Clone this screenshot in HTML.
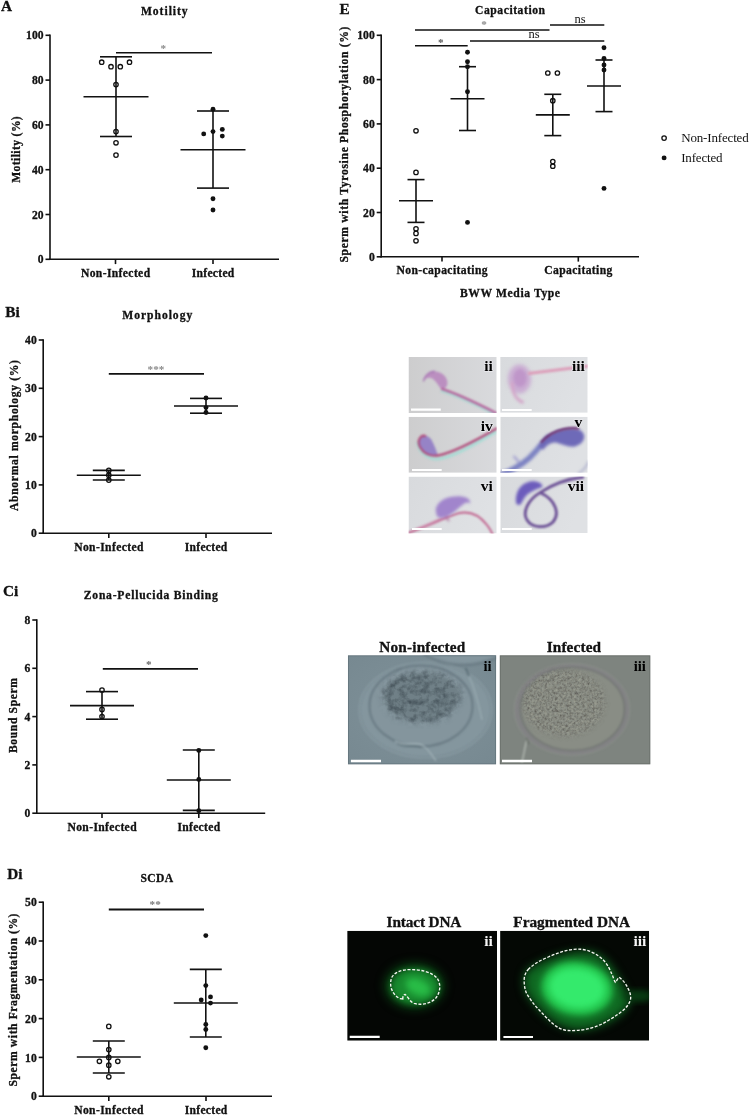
<!DOCTYPE html>
<html lang="en"><head><meta charset="utf-8"><title>Figure</title>
<style>html,body{margin:0;padding:0;background:#fff}svg{display:block}text{font-family:'Liberation Serif', 'DejaVu Serif', serif}</style>
</head><body>
<svg width="750" height="1115" viewBox="0 0 750 1115">
<rect width="750" height="1115" fill="#fff"/>
<g id="panelA">
<text x="0.9" y="11.0" font-size="15.3" text-anchor="start" font-weight="bold" fill="#111" stroke="#111" stroke-width="0.3">A</text>
<text x="164.3" y="15.0" font-size="11.6" text-anchor="middle" font-weight="bold" fill="#111" textLength="46.7" lengthAdjust="spacing" stroke="#111" stroke-width="0.3">Motility</text>
<line x1="50.0" y1="34.5" x2="50.0" y2="260.1" stroke="#111" stroke-width="1.6"/>
<line x1="49.2" y1="259.3" x2="279.0" y2="259.3" stroke="#111" stroke-width="1.6"/>
<line x1="45.5" y1="259.3" x2="50.0" y2="259.3" stroke="#111" stroke-width="1.6"/>
<text x="43.5" y="263.4" font-size="11.6" text-anchor="end" font-weight="bold" fill="#111" stroke="#111" stroke-width="0.3">0</text>
<line x1="45.5" y1="214.5" x2="50.0" y2="214.5" stroke="#111" stroke-width="1.6"/>
<text x="43.5" y="218.6" font-size="11.6" text-anchor="end" font-weight="bold" fill="#111" stroke="#111" stroke-width="0.3">20</text>
<line x1="45.5" y1="169.7" x2="50.0" y2="169.7" stroke="#111" stroke-width="1.6"/>
<text x="43.5" y="173.8" font-size="11.6" text-anchor="end" font-weight="bold" fill="#111" stroke="#111" stroke-width="0.3">40</text>
<line x1="45.5" y1="124.9" x2="50.0" y2="124.9" stroke="#111" stroke-width="1.6"/>
<text x="43.5" y="129.0" font-size="11.6" text-anchor="end" font-weight="bold" fill="#111" stroke="#111" stroke-width="0.3">60</text>
<line x1="45.5" y1="80.1" x2="50.0" y2="80.1" stroke="#111" stroke-width="1.6"/>
<text x="43.5" y="84.2" font-size="11.6" text-anchor="end" font-weight="bold" fill="#111" stroke="#111" stroke-width="0.3">80</text>
<line x1="45.5" y1="35.3" x2="50.0" y2="35.3" stroke="#111" stroke-width="1.6"/>
<text x="43.5" y="39.4" font-size="11.6" text-anchor="end" font-weight="bold" fill="#111" stroke="#111" stroke-width="0.3">100</text>
<line x1="115.5" y1="259.3" x2="115.5" y2="264.1" stroke="#111" stroke-width="1.6"/>
<text x="115.5" y="276.8" font-size="11.6" text-anchor="middle" font-weight="bold" fill="#111" textLength="69.2" lengthAdjust="spacing" stroke="#111" stroke-width="0.3">Non-Infected</text>
<line x1="213.0" y1="259.3" x2="213.0" y2="264.1" stroke="#111" stroke-width="1.6"/>
<text x="213.0" y="276.8" font-size="11.6" text-anchor="middle" font-weight="bold" fill="#111" textLength="42.6" lengthAdjust="spacing" stroke="#111" stroke-width="0.3">Infected</text>
<text x="20.0" y="149.5" font-size="11.6" text-anchor="middle" font-weight="bold" fill="#111" textLength="66.5" lengthAdjust="spacing" transform="rotate(-90 20.0 149.5)" stroke="#111" stroke-width="0.3">Motility (%)</text>
<line x1="83.5" y1="96.7" x2="148.5" y2="96.7" stroke="#111" stroke-width="1.6"/>
<line x1="116.0" y1="56.8" x2="116.0" y2="136.5" stroke="#111" stroke-width="1.6"/>
<line x1="100.0" y1="56.8" x2="132.0" y2="56.8" stroke="#111" stroke-width="1.6"/>
<line x1="100.0" y1="136.5" x2="132.0" y2="136.5" stroke="#111" stroke-width="1.6"/>
<line x1="180.5" y1="149.8" x2="245.5" y2="149.8" stroke="#111" stroke-width="1.6"/>
<line x1="213.0" y1="111.0" x2="213.0" y2="188.1" stroke="#111" stroke-width="1.6"/>
<line x1="197.0" y1="111.0" x2="229.0" y2="111.0" stroke="#111" stroke-width="1.6"/>
<line x1="197.0" y1="188.1" x2="229.0" y2="188.1" stroke="#111" stroke-width="1.6"/>
<circle cx="101.7" cy="62.2" r="2.2" fill="#fff" fill-opacity="0.0" stroke="#111" stroke-width="1.3"/>
<circle cx="111.0" cy="66.7" r="2.2" fill="#fff" fill-opacity="0.0" stroke="#111" stroke-width="1.3"/>
<circle cx="120.3" cy="66.7" r="2.2" fill="#fff" fill-opacity="0.0" stroke="#111" stroke-width="1.3"/>
<circle cx="129.5" cy="62.2" r="2.2" fill="#fff" fill-opacity="0.0" stroke="#111" stroke-width="1.3"/>
<circle cx="116.0" cy="84.6" r="2.2" fill="#fff" fill-opacity="0.0" stroke="#111" stroke-width="1.3"/>
<circle cx="116.0" cy="131.6" r="2.2" fill="#fff" fill-opacity="0.0" stroke="#111" stroke-width="1.3"/>
<circle cx="116.0" cy="142.8" r="2.2" fill="#fff" fill-opacity="0.0" stroke="#111" stroke-width="1.3"/>
<circle cx="116.0" cy="155.1" r="2.2" fill="#fff" fill-opacity="0.0" stroke="#111" stroke-width="1.3"/>
<circle cx="213.0" cy="109.2" r="2.45" fill="#111"/>
<circle cx="222.3" cy="129.4" r="2.45" fill="#111"/>
<circle cx="213.0" cy="131.6" r="2.45" fill="#111"/>
<circle cx="203.7" cy="133.9" r="2.45" fill="#111"/>
<circle cx="222.3" cy="136.1" r="2.45" fill="#111"/>
<circle cx="213.0" cy="198.8" r="2.45" fill="#111"/>
<circle cx="213.0" cy="210.0" r="2.45" fill="#111"/>
<line x1="116.0" y1="52.7" x2="212.0" y2="52.7" stroke="#111" stroke-width="1.6"/>
<text x="163.3" y="51.6" font-size="11.2" text-anchor="middle" font-weight="bold" fill="#888">*</text>
</g>
<g id="panelE">
<text x="339.6" y="13.5" font-size="15.3" text-anchor="start" font-weight="bold" fill="#111" stroke="#111" stroke-width="0.3">E</text>
<text x="510.0" y="14.2" font-size="11.6" text-anchor="middle" font-weight="bold" fill="#111" textLength="70.0" lengthAdjust="spacing" stroke="#111" stroke-width="0.3">Capacitation</text>
<line x1="381.2" y1="34.5" x2="381.2" y2="257.6" stroke="#111" stroke-width="1.6"/>
<line x1="380.4" y1="256.8" x2="639.0" y2="256.8" stroke="#111" stroke-width="1.6"/>
<line x1="376.7" y1="256.8" x2="381.2" y2="256.8" stroke="#111" stroke-width="1.6"/>
<text x="374.7" y="260.9" font-size="11.6" text-anchor="end" font-weight="bold" fill="#111" stroke="#111" stroke-width="0.3">0</text>
<line x1="376.7" y1="212.5" x2="381.2" y2="212.5" stroke="#111" stroke-width="1.6"/>
<text x="374.7" y="216.6" font-size="11.6" text-anchor="end" font-weight="bold" fill="#111" stroke="#111" stroke-width="0.3">20</text>
<line x1="376.7" y1="168.2" x2="381.2" y2="168.2" stroke="#111" stroke-width="1.6"/>
<text x="374.7" y="172.3" font-size="11.6" text-anchor="end" font-weight="bold" fill="#111" stroke="#111" stroke-width="0.3">40</text>
<line x1="376.7" y1="123.9" x2="381.2" y2="123.9" stroke="#111" stroke-width="1.6"/>
<text x="374.7" y="128.0" font-size="11.6" text-anchor="end" font-weight="bold" fill="#111" stroke="#111" stroke-width="0.3">60</text>
<line x1="376.7" y1="79.6" x2="381.2" y2="79.6" stroke="#111" stroke-width="1.6"/>
<text x="374.7" y="83.7" font-size="11.6" text-anchor="end" font-weight="bold" fill="#111" stroke="#111" stroke-width="0.3">80</text>
<line x1="376.7" y1="35.3" x2="381.2" y2="35.3" stroke="#111" stroke-width="1.6"/>
<text x="374.7" y="39.4" font-size="11.6" text-anchor="end" font-weight="bold" fill="#111" stroke="#111" stroke-width="0.3">100</text>
<line x1="442.0" y1="256.8" x2="442.0" y2="261.6" stroke="#111" stroke-width="1.6"/>
<text x="442.0" y="274.3" font-size="11.6" text-anchor="middle" font-weight="bold" fill="#111" textLength="91.2" lengthAdjust="spacing" stroke="#111" stroke-width="0.3">Non-capacitating</text>
<line x1="578.3" y1="256.8" x2="578.3" y2="261.6" stroke="#111" stroke-width="1.6"/>
<text x="578.3" y="274.3" font-size="11.6" text-anchor="middle" font-weight="bold" fill="#111" textLength="68.0" lengthAdjust="spacing" stroke="#111" stroke-width="0.3">Capacitating</text>
<text x="510.0" y="296.6" font-size="11.6" text-anchor="middle" font-weight="bold" fill="#111" textLength="100.0" lengthAdjust="spacing" stroke="#111" stroke-width="0.3">BWW Media Type</text>
<text x="348.3" y="144.6" font-size="11.6" text-anchor="middle" font-weight="bold" fill="#111" textLength="236.0" lengthAdjust="spacing" transform="rotate(-90 348.3 144.6)" stroke="#111" stroke-width="0.3">Sperm with Tyrosine Phosphorylation (%)</text>
<line x1="399.0" y1="200.8" x2="433.0" y2="200.8" stroke="#111" stroke-width="1.6"/>
<line x1="416.0" y1="179.6" x2="416.0" y2="222.4" stroke="#111" stroke-width="1.6"/>
<line x1="407.5" y1="179.6" x2="424.5" y2="179.6" stroke="#111" stroke-width="1.6"/>
<line x1="407.5" y1="222.4" x2="424.5" y2="222.4" stroke="#111" stroke-width="1.6"/>
<line x1="450.5" y1="98.7" x2="484.5" y2="98.7" stroke="#111" stroke-width="1.6"/>
<line x1="467.5" y1="66.7" x2="467.5" y2="130.5" stroke="#111" stroke-width="1.6"/>
<line x1="459.0" y1="66.7" x2="476.0" y2="66.7" stroke="#111" stroke-width="1.6"/>
<line x1="459.0" y1="130.5" x2="476.0" y2="130.5" stroke="#111" stroke-width="1.6"/>
<line x1="535.8" y1="114.9" x2="569.8" y2="114.9" stroke="#111" stroke-width="1.6"/>
<line x1="552.8" y1="94.3" x2="552.8" y2="135.6" stroke="#111" stroke-width="1.6"/>
<line x1="544.3" y1="94.3" x2="561.3" y2="94.3" stroke="#111" stroke-width="1.6"/>
<line x1="544.3" y1="135.6" x2="561.3" y2="135.6" stroke="#111" stroke-width="1.6"/>
<line x1="587.0" y1="86.0" x2="621.0" y2="86.0" stroke="#111" stroke-width="1.6"/>
<line x1="604.0" y1="60.0" x2="604.0" y2="111.6" stroke="#111" stroke-width="1.6"/>
<line x1="595.5" y1="60.0" x2="612.5" y2="60.0" stroke="#111" stroke-width="1.6"/>
<line x1="595.5" y1="111.6" x2="612.5" y2="111.6" stroke="#111" stroke-width="1.6"/>
<circle cx="416.0" cy="130.8" r="2.2" fill="#fff" fill-opacity="0.0" stroke="#111" stroke-width="1.3"/>
<circle cx="416.0" cy="172.4" r="2.2" fill="#fff" fill-opacity="0.0" stroke="#111" stroke-width="1.3"/>
<circle cx="416.0" cy="228.8" r="2.2" fill="#fff" fill-opacity="0.0" stroke="#111" stroke-width="1.3"/>
<circle cx="416.0" cy="233.4" r="2.2" fill="#fff" fill-opacity="0.0" stroke="#111" stroke-width="1.3"/>
<circle cx="416.0" cy="240.8" r="2.2" fill="#fff" fill-opacity="0.0" stroke="#111" stroke-width="1.3"/>
<circle cx="547.8" cy="73.0" r="2.2" fill="#fff" fill-opacity="0.0" stroke="#111" stroke-width="1.3"/>
<circle cx="557.4" cy="73.0" r="2.2" fill="#fff" fill-opacity="0.0" stroke="#111" stroke-width="1.3"/>
<circle cx="552.8" cy="100.7" r="2.2" fill="#fff" fill-opacity="0.0" stroke="#111" stroke-width="1.3"/>
<circle cx="552.8" cy="161.6" r="2.2" fill="#fff" fill-opacity="0.0" stroke="#111" stroke-width="1.3"/>
<circle cx="552.8" cy="166.2" r="2.2" fill="#fff" fill-opacity="0.0" stroke="#111" stroke-width="1.3"/>
<circle cx="467.5" cy="52.3" r="2.45" fill="#111"/>
<circle cx="467.5" cy="61.7" r="2.45" fill="#111"/>
<circle cx="467.5" cy="66.7" r="2.45" fill="#111"/>
<circle cx="467.5" cy="91.7" r="2.45" fill="#111"/>
<circle cx="467.5" cy="222.4" r="2.45" fill="#111"/>
<circle cx="604.0" cy="47.7" r="2.45" fill="#111"/>
<circle cx="604.0" cy="58.5" r="2.45" fill="#111"/>
<circle cx="604.0" cy="65.0" r="2.45" fill="#111"/>
<circle cx="604.0" cy="70.0" r="2.45" fill="#111"/>
<circle cx="604.0" cy="188.4" r="2.45" fill="#111"/>
<line x1="415.0" y1="30.0" x2="549.5" y2="30.0" stroke="#111" stroke-width="1.6"/>
<text x="484.0" y="28.2" font-size="11.2" text-anchor="middle" font-weight="bold" fill="#888">*</text>
<line x1="415.0" y1="45.7" x2="467.7" y2="45.7" stroke="#111" stroke-width="1.6"/>
<text x="440.7" y="45.6" font-size="11.2" text-anchor="middle" font-weight="bold" fill="#555">*</text>
<line x1="470.0" y1="41.0" x2="604.3" y2="41.0" stroke="#111" stroke-width="1.6"/>
<text x="534.0" y="37.6" font-size="12.5" text-anchor="middle" font-weight="normal" fill="#111">ns</text>
<line x1="550.0" y1="25.0" x2="604.3" y2="25.0" stroke="#111" stroke-width="1.6"/>
<text x="580.0" y="22.6" font-size="12.5" text-anchor="middle" font-weight="normal" fill="#111">ns</text>
<circle cx="664.1" cy="138.1" r="2.2" fill="#fff" fill-opacity="0.0" stroke="#111" stroke-width="1.3"/>
<text x="681.2" y="141.9" font-size="13" text-anchor="start" font-weight="normal" fill="#111" textLength="67.5" lengthAdjust="spacing">Non-Infected</text>
<circle cx="664.1" cy="157.9" r="2.45" fill="#111"/>
<text x="681.2" y="161.9" font-size="13" text-anchor="start" font-weight="normal" fill="#111" textLength="41.3" lengthAdjust="spacing">Infected</text>
</g>
<g id="panelB">
<text x="5.2" y="317.4" font-size="15.3" text-anchor="start" font-weight="bold" fill="#111" stroke="#111" stroke-width="0.3">Bi</text>
<text x="157.2" y="318.8" font-size="11.6" text-anchor="middle" font-weight="bold" fill="#111" textLength="70.0" lengthAdjust="spacing" stroke="#111" stroke-width="0.3">Morphology</text>
<line x1="43.2" y1="339.2" x2="43.2" y2="534.0" stroke="#111" stroke-width="1.6"/>
<line x1="42.4" y1="533.2" x2="272.0" y2="533.2" stroke="#111" stroke-width="1.6"/>
<line x1="38.7" y1="533.2" x2="43.2" y2="533.2" stroke="#111" stroke-width="1.6"/>
<text x="36.7" y="537.3" font-size="11.6" text-anchor="end" font-weight="bold" fill="#111" stroke="#111" stroke-width="0.3">0</text>
<line x1="38.7" y1="484.9" x2="43.2" y2="484.9" stroke="#111" stroke-width="1.6"/>
<text x="36.7" y="489.0" font-size="11.6" text-anchor="end" font-weight="bold" fill="#111" stroke="#111" stroke-width="0.3">10</text>
<line x1="38.7" y1="436.6" x2="43.2" y2="436.6" stroke="#111" stroke-width="1.6"/>
<text x="36.7" y="440.7" font-size="11.6" text-anchor="end" font-weight="bold" fill="#111" stroke="#111" stroke-width="0.3">20</text>
<line x1="38.7" y1="388.3" x2="43.2" y2="388.3" stroke="#111" stroke-width="1.6"/>
<text x="36.7" y="392.4" font-size="11.6" text-anchor="end" font-weight="bold" fill="#111" stroke="#111" stroke-width="0.3">30</text>
<line x1="38.7" y1="340.0" x2="43.2" y2="340.0" stroke="#111" stroke-width="1.6"/>
<text x="36.7" y="344.1" font-size="11.6" text-anchor="end" font-weight="bold" fill="#111" stroke="#111" stroke-width="0.3">40</text>
<line x1="108.8" y1="533.2" x2="108.8" y2="538.0" stroke="#111" stroke-width="1.6"/>
<text x="108.8" y="550.7" font-size="11.6" text-anchor="middle" font-weight="bold" fill="#111" textLength="69.2" lengthAdjust="spacing" stroke="#111" stroke-width="0.3">Non-Infected</text>
<line x1="206.0" y1="533.2" x2="206.0" y2="538.0" stroke="#111" stroke-width="1.6"/>
<text x="206.0" y="550.7" font-size="11.6" text-anchor="middle" font-weight="bold" fill="#111" textLength="42.6" lengthAdjust="spacing" stroke="#111" stroke-width="0.3">Infected</text>
<text x="17.5" y="435.5" font-size="11.6" text-anchor="middle" font-weight="bold" fill="#111" textLength="151.0" lengthAdjust="spacing" transform="rotate(-90 17.5 435.5)" stroke="#111" stroke-width="0.3">Abnormal morphology (%)</text>
<line x1="76.8" y1="475.2" x2="140.8" y2="475.2" stroke="#111" stroke-width="1.6"/>
<line x1="108.8" y1="470.4" x2="108.8" y2="480.0" stroke="#111" stroke-width="1.6"/>
<line x1="92.8" y1="470.4" x2="124.8" y2="470.4" stroke="#111" stroke-width="1.6"/>
<line x1="92.8" y1="480.0" x2="124.8" y2="480.0" stroke="#111" stroke-width="1.6"/>
<line x1="174.0" y1="406.0" x2="238.0" y2="406.0" stroke="#111" stroke-width="1.6"/>
<line x1="206.0" y1="398.4" x2="206.0" y2="413.2" stroke="#111" stroke-width="1.6"/>
<line x1="190.0" y1="398.4" x2="222.0" y2="398.4" stroke="#111" stroke-width="1.6"/>
<line x1="190.0" y1="413.2" x2="222.0" y2="413.2" stroke="#111" stroke-width="1.6"/>
<circle cx="108.8" cy="470.4" r="2.2" fill="#fff" fill-opacity="0.0" stroke="#111" stroke-width="1.3"/>
<circle cx="108.8" cy="475.2" r="2.2" fill="#fff" fill-opacity="0.0" stroke="#111" stroke-width="1.3"/>
<circle cx="108.8" cy="480.1" r="2.2" fill="#fff" fill-opacity="0.0" stroke="#111" stroke-width="1.3"/>
<circle cx="206.0" cy="398.0" r="2.45" fill="#111"/>
<circle cx="206.0" cy="407.6" r="2.45" fill="#111"/>
<circle cx="206.0" cy="412.5" r="2.45" fill="#111"/>
<line x1="108.8" y1="373.9" x2="204.0" y2="373.9" stroke="#111" stroke-width="1.6"/>
<text x="156.0" y="372.6" font-size="11.2" text-anchor="middle" font-weight="bold" fill="#888">***</text>
</g>
<g id="panelC">
<text x="3.0" y="596.4" font-size="15.3" text-anchor="start" font-weight="bold" fill="#111" stroke="#111" stroke-width="0.3">Ci</text>
<text x="150.8" y="598.8" font-size="11.6" text-anchor="middle" font-weight="bold" fill="#111" textLength="134.0" lengthAdjust="spacing" stroke="#111" stroke-width="0.3">Zona-Pellucida Binding</text>
<line x1="36.8" y1="619.2" x2="36.8" y2="814.0" stroke="#111" stroke-width="1.6"/>
<line x1="36.0" y1="813.2" x2="265.2" y2="813.2" stroke="#111" stroke-width="1.6"/>
<line x1="32.3" y1="813.2" x2="36.8" y2="813.2" stroke="#111" stroke-width="1.6"/>
<text x="30.3" y="817.3" font-size="11.6" text-anchor="end" font-weight="bold" fill="#111" stroke="#111" stroke-width="0.3">0</text>
<line x1="32.3" y1="764.9" x2="36.8" y2="764.9" stroke="#111" stroke-width="1.6"/>
<text x="30.3" y="769.0" font-size="11.6" text-anchor="end" font-weight="bold" fill="#111" stroke="#111" stroke-width="0.3">2</text>
<line x1="32.3" y1="716.6" x2="36.8" y2="716.6" stroke="#111" stroke-width="1.6"/>
<text x="30.3" y="720.7" font-size="11.6" text-anchor="end" font-weight="bold" fill="#111" stroke="#111" stroke-width="0.3">4</text>
<line x1="32.3" y1="668.3" x2="36.8" y2="668.3" stroke="#111" stroke-width="1.6"/>
<text x="30.3" y="672.4" font-size="11.6" text-anchor="end" font-weight="bold" fill="#111" stroke="#111" stroke-width="0.3">6</text>
<line x1="32.3" y1="620.0" x2="36.8" y2="620.0" stroke="#111" stroke-width="1.6"/>
<text x="30.3" y="624.1" font-size="11.6" text-anchor="end" font-weight="bold" fill="#111" stroke="#111" stroke-width="0.3">8</text>
<line x1="102.0" y1="813.2" x2="102.0" y2="818.0" stroke="#111" stroke-width="1.6"/>
<text x="102.0" y="830.7" font-size="11.6" text-anchor="middle" font-weight="bold" fill="#111" textLength="69.2" lengthAdjust="spacing" stroke="#111" stroke-width="0.3">Non-Infected</text>
<line x1="198.8" y1="813.2" x2="198.8" y2="818.0" stroke="#111" stroke-width="1.6"/>
<text x="198.8" y="830.7" font-size="11.6" text-anchor="middle" font-weight="bold" fill="#111" textLength="42.6" lengthAdjust="spacing" stroke="#111" stroke-width="0.3">Infected</text>
<text x="16.5" y="715.5" font-size="11.6" text-anchor="middle" font-weight="bold" fill="#111" textLength="75.0" lengthAdjust="spacing" transform="rotate(-90 16.5 715.5)" stroke="#111" stroke-width="0.3">Bound Sperm</text>
<line x1="70.0" y1="705.6" x2="134.0" y2="705.6" stroke="#111" stroke-width="1.6"/>
<line x1="102.0" y1="691.6" x2="102.0" y2="719.2" stroke="#111" stroke-width="1.6"/>
<line x1="86.0" y1="691.6" x2="118.0" y2="691.6" stroke="#111" stroke-width="1.6"/>
<line x1="86.0" y1="719.2" x2="118.0" y2="719.2" stroke="#111" stroke-width="1.6"/>
<line x1="166.8" y1="780.0" x2="230.8" y2="780.0" stroke="#111" stroke-width="1.6"/>
<line x1="198.8" y1="750.0" x2="198.8" y2="810.4" stroke="#111" stroke-width="1.6"/>
<line x1="182.8" y1="750.0" x2="214.8" y2="750.0" stroke="#111" stroke-width="1.6"/>
<line x1="182.8" y1="810.4" x2="214.8" y2="810.4" stroke="#111" stroke-width="1.6"/>
<circle cx="102.0" cy="690.0" r="2.2" fill="#fff" fill-opacity="0.0" stroke="#111" stroke-width="1.3"/>
<circle cx="102.0" cy="709.4" r="2.2" fill="#fff" fill-opacity="0.0" stroke="#111" stroke-width="1.3"/>
<circle cx="102.0" cy="716.6" r="2.2" fill="#fff" fill-opacity="0.0" stroke="#111" stroke-width="1.3"/>
<circle cx="198.8" cy="750.4" r="2.45" fill="#111"/>
<circle cx="198.8" cy="779.4" r="2.45" fill="#111"/>
<circle cx="198.8" cy="810.8" r="2.45" fill="#111"/>
<line x1="102.8" y1="668.9" x2="198.0" y2="668.9" stroke="#111" stroke-width="1.9"/>
<text x="148.8" y="667.6" font-size="11.2" text-anchor="middle" font-weight="bold" fill="#666">*</text>
</g>
<g id="panelD">
<text x="7.2" y="879.2" font-size="15.3" text-anchor="start" font-weight="bold" fill="#111" stroke="#111" stroke-width="0.3">Di</text>
<text x="156.8" y="882.2" font-size="11.6" text-anchor="middle" font-weight="bold" fill="#111" textLength="32.5" lengthAdjust="spacing" stroke="#111" stroke-width="0.3">SCDA</text>
<line x1="43.2" y1="901.4" x2="43.2" y2="1097.0" stroke="#111" stroke-width="1.6"/>
<line x1="42.4" y1="1096.2" x2="272.0" y2="1096.2" stroke="#111" stroke-width="1.6"/>
<line x1="38.7" y1="1096.2" x2="43.2" y2="1096.2" stroke="#111" stroke-width="1.6"/>
<text x="36.7" y="1100.3" font-size="11.6" text-anchor="end" font-weight="bold" fill="#111" stroke="#111" stroke-width="0.3">0</text>
<line x1="38.7" y1="1057.4" x2="43.2" y2="1057.4" stroke="#111" stroke-width="1.6"/>
<text x="36.7" y="1061.5" font-size="11.6" text-anchor="end" font-weight="bold" fill="#111" stroke="#111" stroke-width="0.3">10</text>
<line x1="38.7" y1="1018.6" x2="43.2" y2="1018.6" stroke="#111" stroke-width="1.6"/>
<text x="36.7" y="1022.7" font-size="11.6" text-anchor="end" font-weight="bold" fill="#111" stroke="#111" stroke-width="0.3">20</text>
<line x1="38.7" y1="979.8" x2="43.2" y2="979.8" stroke="#111" stroke-width="1.6"/>
<text x="36.7" y="983.9" font-size="11.6" text-anchor="end" font-weight="bold" fill="#111" stroke="#111" stroke-width="0.3">30</text>
<line x1="38.7" y1="941.0" x2="43.2" y2="941.0" stroke="#111" stroke-width="1.6"/>
<text x="36.7" y="945.1" font-size="11.6" text-anchor="end" font-weight="bold" fill="#111" stroke="#111" stroke-width="0.3">40</text>
<line x1="38.7" y1="902.2" x2="43.2" y2="902.2" stroke="#111" stroke-width="1.6"/>
<text x="36.7" y="906.3" font-size="11.6" text-anchor="end" font-weight="bold" fill="#111" stroke="#111" stroke-width="0.3">50</text>
<line x1="108.8" y1="1096.2" x2="108.8" y2="1101.0" stroke="#111" stroke-width="1.6"/>
<text x="108.8" y="1113.7" font-size="11.6" text-anchor="middle" font-weight="bold" fill="#111" textLength="69.2" lengthAdjust="spacing" stroke="#111" stroke-width="0.3">Non-Infected</text>
<line x1="206.0" y1="1096.2" x2="206.0" y2="1101.0" stroke="#111" stroke-width="1.6"/>
<text x="206.0" y="1113.7" font-size="11.6" text-anchor="middle" font-weight="bold" fill="#111" textLength="42.6" lengthAdjust="spacing" stroke="#111" stroke-width="0.3">Infected</text>
<text x="17.0" y="1000.0" font-size="11.6" text-anchor="middle" font-weight="bold" fill="#111" textLength="173.0" lengthAdjust="spacing" transform="rotate(-90 17.0 1000.0)" stroke="#111" stroke-width="0.3">Sperm with Fragmentation (%)</text>
<line x1="76.8" y1="1057.0" x2="140.8" y2="1057.0" stroke="#111" stroke-width="1.6"/>
<line x1="108.8" y1="1041.0" x2="108.8" y2="1073.0" stroke="#111" stroke-width="1.6"/>
<line x1="92.8" y1="1041.0" x2="124.8" y2="1041.0" stroke="#111" stroke-width="1.6"/>
<line x1="92.8" y1="1073.0" x2="124.8" y2="1073.0" stroke="#111" stroke-width="1.6"/>
<line x1="173.8" y1="1003.0" x2="237.8" y2="1003.0" stroke="#111" stroke-width="1.6"/>
<line x1="205.8" y1="969.4" x2="205.8" y2="1037.0" stroke="#111" stroke-width="1.6"/>
<line x1="189.8" y1="969.4" x2="221.8" y2="969.4" stroke="#111" stroke-width="1.6"/>
<line x1="189.8" y1="1037.0" x2="221.8" y2="1037.0" stroke="#111" stroke-width="1.6"/>
<circle cx="108.8" cy="1026.4" r="2.2" fill="#fff" fill-opacity="0.0" stroke="#111" stroke-width="1.3"/>
<circle cx="108.8" cy="1049.6" r="2.2" fill="#fff" fill-opacity="0.0" stroke="#111" stroke-width="1.3"/>
<circle cx="108.8" cy="1057.4" r="2.2" fill="#fff" fill-opacity="0.0" stroke="#111" stroke-width="1.3"/>
<circle cx="99.4" cy="1061.3" r="2.2" fill="#fff" fill-opacity="0.0" stroke="#111" stroke-width="1.3"/>
<circle cx="117.8" cy="1061.3" r="2.2" fill="#fff" fill-opacity="0.0" stroke="#111" stroke-width="1.3"/>
<circle cx="108.8" cy="1065.2" r="2.2" fill="#fff" fill-opacity="0.0" stroke="#111" stroke-width="1.3"/>
<circle cx="108.8" cy="1076.8" r="2.2" fill="#fff" fill-opacity="0.0" stroke="#111" stroke-width="1.3"/>
<circle cx="205.8" cy="935.6" r="2.45" fill="#111"/>
<circle cx="205.8" cy="985.6" r="2.45" fill="#111"/>
<circle cx="210.5" cy="996.9" r="2.45" fill="#111"/>
<circle cx="201.2" cy="1000.0" r="2.45" fill="#111"/>
<circle cx="210.5" cy="1003.1" r="2.45" fill="#111"/>
<circle cx="205.8" cy="1024.4" r="2.45" fill="#111"/>
<circle cx="205.8" cy="1029.5" r="2.45" fill="#111"/>
<circle cx="205.8" cy="1047.7" r="2.45" fill="#111"/>
<line x1="108.8" y1="909.5" x2="204.0" y2="909.5" stroke="#111" stroke-width="1.9"/>
<text x="155.2" y="907.6" font-size="11.2" text-anchor="middle" font-weight="bold" fill="#777">**</text>
</g>
<defs>
<filter color-interpolation-filters="sRGB" id="b1" x="-20%" y="-20%" width="140%" height="140%"><feGaussianBlur stdDeviation="0.9"/></filter>
<filter color-interpolation-filters="sRGB" id="b2" x="-20%" y="-20%" width="140%" height="140%"><feGaussianBlur stdDeviation="1.6"/></filter>
<filter color-interpolation-filters="sRGB" id="b3" x="-30%" y="-30%" width="160%" height="160%"><feGaussianBlur stdDeviation="3"/></filter>
<filter color-interpolation-filters="sRGB" id="b5" x="-40%" y="-40%" width="180%" height="180%"><feGaussianBlur stdDeviation="5"/></filter>
<filter color-interpolation-filters="sRGB" id="b8" x="-50%" y="-50%" width="200%" height="200%"><feGaussianBlur stdDeviation="8"/></filter>
<filter color-interpolation-filters="sRGB" id="b05" x="-20%" y="-20%" width="140%" height="140%"><feGaussianBlur stdDeviation="0.5"/></filter>
<filter color-interpolation-filters="sRGB" id="grainA" x="-10%" y="-10%" width="120%" height="120%"><feTurbulence type="fractalNoise" baseFrequency="0.17" numOctaves="3" seed="3" result="n"/><feColorMatrix in="n" type="matrix" values="0 0 0 0 0.27  0 0 0 0 0.32  0 0 0 0 0.35  1.2 1.2 0 0 -0.95"/><feGaussianBlur stdDeviation="0.6" result="g"/><feGaussianBlur in="SourceAlpha" stdDeviation="3" result="m"/><feComposite in="g" in2="m" operator="in"/></filter>
<filter color-interpolation-filters="sRGB" id="grainB" x="-10%" y="-10%" width="120%" height="120%"><feTurbulence type="fractalNoise" baseFrequency="0.4" numOctaves="2" seed="7" result="n"/><feColorMatrix in="n" type="matrix" values="0 0 0 0 0.34  0 0 0 0 0.33  0 0 0 0 0.31  1.2 1.2 0 0 -0.98"/><feGaussianBlur stdDeviation="0.5" result="g"/><feGaussianBlur in="SourceAlpha" stdDeviation="2.5" result="m"/><feComposite in="g" in2="m" operator="in"/></filter>
<filter color-interpolation-filters="sRGB" id="grainBl" x="-10%" y="-10%" width="120%" height="120%"><feTurbulence type="fractalNoise" baseFrequency="0.38" numOctaves="2" seed="11" result="n"/><feColorMatrix in="n" type="matrix" values="0 0 0 0 0.62  0 0 0 0 0.63  0 0 0 0 0.58  1.2 1.2 0 0 -1.0"/><feGaussianBlur stdDeviation="0.5" result="g"/><feGaussianBlur in="SourceAlpha" stdDeviation="2.5" result="m"/><feComposite in="g" in2="m" operator="in"/></filter>
<clipPath id="cp_bii"><rect x="408.5" y="357.0" width="88.2" height="56.0"/></clipPath>
<clipPath id="cp_biii"><rect x="500.2" y="357.0" width="87.5" height="55.8"/></clipPath>
<clipPath id="cp_biv"><rect x="408.5" y="416.8" width="88.2" height="56.0"/></clipPath>
<clipPath id="cp_bv"><rect x="500.3" y="416.8" width="87.4" height="56.0"/></clipPath>
<clipPath id="cp_bvi"><rect x="408.5" y="476.6" width="88.2" height="56.8"/></clipPath>
<clipPath id="cp_bvii"><rect x="500.3" y="476.6" width="87.4" height="56.4"/></clipPath>
<clipPath id="cp_cii"><rect x="347.9" y="655.2" width="148.3" height="109.3"/></clipPath>
<clipPath id="cp_ciii"><rect x="499.6" y="655.2" width="150.9" height="109.3"/></clipPath>
<clipPath id="cp_dii"><rect x="347.2" y="930.8" width="149.8" height="109.9"/></clipPath>
<clipPath id="cp_diii"><rect x="500.1" y="930.8" width="149.0" height="109.9"/></clipPath>
<linearGradient id="gB" x1="0" x2="1" y1="0" y2="0"><stop offset="0" stop-color="#cdcdce"/><stop offset="1" stop-color="#d9dadd"/></linearGradient>
<linearGradient id="gB2" x1="0" x2="1" y1="0" y2="0.3"><stop offset="0" stop-color="#d8dadd"/><stop offset="1" stop-color="#dfe1e4"/></linearGradient>
<radialGradient id="gCii" cx="0.5" cy="0.5" r="0.75"><stop offset="0" stop-color="#80929a"/><stop offset="1" stop-color="#768890"/></radialGradient>
<radialGradient id="gDii" cx="0.5" cy="0.5" r="0.5"><stop offset="0" stop-color="#2fc84a"/><stop offset="0.45" stop-color="#1ea236"/><stop offset="0.8" stop-color="#0c5a18"/><stop offset="1" stop-color="#0c5a18" stop-opacity="0"/></radialGradient>
<radialGradient id="gDiii" cx="0.5" cy="0.5" r="0.5"><stop offset="0" stop-color="#35e868"/><stop offset="0.6" stop-color="#2fe060"/><stop offset="0.85" stop-color="#1fae40"/><stop offset="1" stop-color="#178a30"/></radialGradient>
</defs>
<g id="Bii" clip-path="url(#cp_bii)">
<rect x="408.5" y="357.0" width="88.2" height="56.0" fill="url(#gB)"/>
<g filter="url(#b1)">
<path d="M441.5 389.5 C452 392 470 400 497 413.5" fill="none" stroke="#8fd8d0" stroke-opacity="0.55" stroke-width="3.4" transform="translate(-0.6 1.2)"/>
<path d="M423.6 381 C424.5 375.5 429 371.6 435 371.4 C441.5 371.4 447.2 376.5 447.4 382.5 C447.6 386.5 445 389.4 441.2 389 C438.6 386 436.4 381.6 432.4 378.6 C429 376.6 425.6 378 423.6 381 Z" fill="#bb8fc0"/>
<path d="M423.4 381.4 C424.5 375.5 429 371.6 435 371.4" fill="none" stroke="#a878b4" stroke-width="1.6"/>
<path d="M441.2 388.6 C452 392 470 399.6 497 413.4" fill="none" stroke="#b5609a" stroke-width="2.3"/>
</g>
<line x1="411" y1="409.6" x2="440.8" y2="409.6" stroke="#fff" stroke-width="2.2"/>
<text x="492.8" y="371.4" font-size="15.5" font-weight="bold" text-anchor="end" fill="#000" stroke="#e8e8ec" stroke-width="1.6" paint-order="stroke" stroke-linejoin="round">ii</text>
</g>
<g id="Biii" clip-path="url(#cp_biii)">
<rect x="500.2" y="357.0" width="87.5" height="55.8" fill="url(#gB2)"/>
<g filter="url(#b2)">
<ellipse cx="519.5" cy="379" rx="11.5" ry="14.5" fill="#c8a6d0" fill-opacity="0.9" filter="url(#b2)"/>
<ellipse cx="520" cy="378" rx="6.5" ry="9" fill="#be94c8" fill-opacity="0.9"/>
<path d="M512 382 C512 392 516 400 523.5 402.5" fill="none" stroke="#d3a4c8" stroke-width="3"/>
</g><g filter="url(#b1)">
<path d="M528 373.6 C545 371.5 560 369.6 589 366" fill="none" stroke="#dc9cb8" stroke-width="3"/>
</g>
<line x1="502" y1="410" x2="531.7" y2="410" stroke="#fff" stroke-width="2.2"/>
<text x="584.8" y="371.4" font-size="15.5" font-weight="bold" text-anchor="end" fill="#000" stroke="#e8e8ec" stroke-width="1.6" paint-order="stroke" stroke-linejoin="round">iii</text>
</g>
<g id="Biv" clip-path="url(#cp_biv)">
<rect x="408.5" y="416.8" width="88.2" height="56.0" fill="url(#gB)"/>
<g filter="url(#b1)">
<path d="M418.5 440 C419 449 427 457.5 438 457.5 C452 456 470 446 497 430" fill="none" stroke="#8fe0d4" stroke-opacity="0.6" stroke-width="3" transform="translate(-0.8 1.6)"/>
<path d="M422.6 436 C418 438 417.6 444 421 448.6 C425 454 431.6 456.6 438 455.6 C436 450 434 444 431 439 C428.6 436 425 435 422.6 436 Z" fill="#9683c6"/>
<path d="M426 436.4 C421 433.6 416.8 440 419.6 446.4 C423 453.4 430.6 457 438.6 455.4 C452 452.6 470 444 497.4 428" fill="none" stroke="#b04878" stroke-width="2.1"/>
</g>
<line x1="412" y1="470" x2="441.7" y2="470" stroke="#fff" stroke-width="2.2"/>
<text x="492.8" y="431.4" font-size="15.5" font-weight="bold" text-anchor="end" fill="#000" stroke="#e8e8ec" stroke-width="1.6" paint-order="stroke" stroke-linejoin="round">iv</text>
</g>
<g id="Bv" clip-path="url(#cp_bv)">
<rect x="500.3" y="416.8" width="87.4" height="56.0" fill="url(#gB2)"/>
<g filter="url(#b2)">
<path d="M498 476 C514 470 527 462 536 451 C541 445 545 440 550 436" fill="none" stroke="#7c82c2" stroke-width="5.6"/>
<path d="M538 446 C543 438 551 432.6 560 430 C566 428.4 574 427.6 579 429.6 C583 431.6 585 435 584 438.6 C583 443 578 446.4 573 446.8 C567 447 561 444 556 442.6 C551 442 547 445 543 450 Z" fill="#6e6ab8"/>
<path d="M513.5 456 L519 462" stroke="#a3a0d0" stroke-width="2.4"/>
<path d="M578 474 C584 470 587 466 589 461" fill="none" stroke="#aeb0cc" stroke-width="2"/>
</g><g filter="url(#b1)">
<path d="M541 442.6 C547 435.6 555 431 564 429.2 C570 428 575 427.8 579 428.8" fill="none" stroke="#6c2c6c" stroke-width="2.2"/>
</g>
<line x1="502" y1="470" x2="531.7" y2="470" stroke="#fff" stroke-width="2.2"/>
<text x="582.3" y="427.4" font-size="15.5" font-weight="bold" text-anchor="end" fill="#000" stroke="#e8e8ec" stroke-width="1.6" paint-order="stroke" stroke-linejoin="round">v</text>
</g>
<g id="Bvi" clip-path="url(#cp_bvi)">
<rect x="408.5" y="476.6" width="88.2" height="56.8" fill="url(#gB2)"/>
<g filter="url(#b1)">
<path d="M408 533 C428 526 446 517 458 513.4 C470 510.4 480 516 487 525 C490 529 492 532 493 536" fill="none" stroke="#c0608c" stroke-width="2"/>
<path d="M416 529 C430 524 440 519 448 515" fill="none" stroke="#cf90b0" stroke-width="1.8"/>
</g><g filter="url(#b2)">
<path d="M436 512 C434.6 507 439 501 446.7 498 C452 496 460 495.4 466 497.4 C469 498.6 470.6 501 470.2 503.6 C468.6 502 466 502.4 463 504.4 C459 507.4 456 510.6 452 513.6 C448 516.8 443 518.6 439 517.6 C437 516.6 436.2 514.6 436 512 Z" fill="#a185cc"/>
<path d="M446 517 L449 521" stroke="#b070a0" stroke-width="2"/>
</g>
<line x1="412" y1="529" x2="441.7" y2="529" stroke="#fff" stroke-width="2.2"/>
<text x="492.8" y="490.6" font-size="15.5" font-weight="bold" text-anchor="end" fill="#000" stroke="#e8e8ec" stroke-width="1.6" paint-order="stroke" stroke-linejoin="round">vi</text>
</g>
<g id="Bvii" clip-path="url(#cp_bvii)">
<rect x="500.3" y="476.6" width="87.4" height="56.4" fill="url(#gB2)"/>
<g filter="url(#b1)">
<path d="M584 477 C566 479 550 486 540 492.6 C528 500 522 512 527 520 C532 528 546 529 553 522 C560 514 556 500 540 492.6" fill="none" stroke="#6a4e94" stroke-width="2.8"/>
</g><g filter="url(#b2)">
<path d="M516 503 C515 492 520 484 530 481.6 C537 480.6 542 483 542.6 487 C536 489 529 492 525 497 C521 503 520 508 516 503 Z" fill="#6c5cbc"/>
</g>
<line x1="502" y1="529" x2="531.7" y2="529" stroke="#fff" stroke-width="2.2"/>
<text x="584.2" y="491.2" font-size="15.5" font-weight="bold" text-anchor="end" fill="#000" stroke="#e8e8ec" stroke-width="1.6" paint-order="stroke" stroke-linejoin="round">vii</text>
</g>
<text x="422.3" y="652.2" font-size="15.3" text-anchor="middle" font-weight="bold" fill="#111" textLength="86.0" lengthAdjust="spacing" stroke="#111" stroke-width="0.3">Non-infected</text>
<g id="Cii" clip-path="url(#cp_cii)">
<rect x="347.9" y="655.2" width="148.3" height="109.3" fill="url(#gCii)"/>
<g filter="url(#b2)">
<ellipse cx="425.5" cy="710" rx="65" ry="46.5" fill="#84969e"/>
<path d="M416 646 C440 666 472 668 500 654 L500 640 Z" fill="#84969e"/>
</g><g filter="url(#b1)">
<ellipse cx="425.5" cy="710" rx="66.5" ry="48" fill="none" stroke="#8c9da5" stroke-width="1.2" stroke-opacity="0.9"/>
<path d="M418 650 C440 668 472 670 499 657" fill="none" stroke="#697a83" stroke-width="1.6"/>
<ellipse cx="421" cy="706" rx="50" ry="39" fill="#84959d"/>
<ellipse cx="421" cy="706" rx="51.5" ry="40.5" fill="none" stroke="#6a7b84" stroke-width="2"/>
<path d="M467 672 C473 684 478 700 482 720" fill="none" stroke="#a2b4ba" stroke-width="1"/>
<path d="M465.6 668 L469 676" fill="none" stroke="#4e626a" stroke-width="1.3"/>
<path d="M395 741 C404 747 414 742 422 745 C426 747 430 752 436 761" fill="none" stroke="#b4c4c8" stroke-width="1"/>
<path d="M397 743.5 C406 749 414 744 421 747.5" fill="none" stroke="#54686f" stroke-width="0.9"/>
</g>
<g filter="url(#b2)"><path d="M384 694 C385 680 404 672 424 673 C442 673 452 680 458 688 C462 696 458 704 450 710 C446 718 434 722 420 721 C402 721 384 712 384 694 Z" fill="#708087"/></g>
<path d="M382 694 C383 678 404 670 424 671 C444 671 454 678 460 688 C464 696 460 706 452 712 C448 720 434 724 420 723 C400 723 382 714 382 694 Z" fill="#000" filter="url(#grainA)"/>
<rect x="348.4" y="655.7" width="147.3" height="108.3" fill="none" stroke="#56666e" stroke-width="1.2" stroke-opacity="0.5"/>
<line x1="350.9" y1="761" x2="381" y2="761" stroke="#fff" stroke-width="2.4"/>
<text x="491.7" y="671.3" font-size="14.7" font-weight="bold" text-anchor="end" fill="#000">ii</text>
</g>
<text x="573.9" y="652.2" font-size="15.3" text-anchor="middle" font-weight="bold" fill="#111" textLength="54.4" lengthAdjust="spacing" stroke="#111" stroke-width="0.3">Infected</text>
<g id="Ciii" clip-path="url(#cp_ciii)">
<rect x="499.6" y="655.2" width="150.9" height="109.3" fill="#7e847f"/>
<g filter="url(#b1)">
<ellipse cx="572" cy="709.4" rx="55" ry="43.8" fill="none" stroke="#828284" stroke-width="5"/>
<ellipse cx="572" cy="709.4" rx="58" ry="46" fill="none" stroke="#8b918a" stroke-width="1"/>
<ellipse cx="572.5" cy="709" rx="51" ry="40.5" fill="#898d85"/>
<ellipse cx="572.5" cy="709" rx="52" ry="41.5" fill="none" stroke="#707470" stroke-width="1.2"/>
<path d="M527.4 739 C524.6 746 524.4 754 521.6 763" fill="none" stroke="#c4cac4" stroke-width="1.1"/>
<path d="M526.6 738 L528.4 744" fill="none" stroke="#5c625c" stroke-width="1.3"/>
</g>
<ellipse cx="564" cy="703" rx="41" ry="33" fill="#000" filter="url(#grainB)"/>
<ellipse cx="564" cy="703" rx="41" ry="33" fill="#000" filter="url(#grainBl)"/>
<rect x="500.1" y="655.7" width="149.9" height="108.3" fill="none" stroke="#565b57" stroke-width="1.2" stroke-opacity="0.5"/>
<line x1="502" y1="761" x2="532" y2="761" stroke="#fff" stroke-width="2.4"/>
<text x="645.9" y="671.3" font-size="14.7" font-weight="bold" text-anchor="end" fill="#000">iii</text>
</g>
<text x="424.0" y="926.8" font-size="15.3" text-anchor="middle" font-weight="bold" fill="#111" textLength="74.8" lengthAdjust="spacing" stroke="#111" stroke-width="0.3">Intact DNA</text>
<g id="Dii" clip-path="url(#cp_dii)">
<rect x="347.2" y="930.8" width="149.8" height="109.9" fill="#040604"/>
<ellipse cx="414.5" cy="986" rx="30" ry="23" fill="#094012" filter="url(#b5)"/>
<ellipse cx="415" cy="986.5" rx="24" ry="17.5" fill="#178a2e" filter="url(#b3)"/>
<ellipse cx="418" cy="987" rx="13" ry="8" fill="#28bc46" filter="url(#b3)" transform="rotate(25 418 987)"/>
<path d="M402.8 999 L399.6 998.6 C392 994 389 986 391.5 978 C394 972.5 401 969.6 410 969.6 C421 969.4 432 972 437.4 978.5 C441.4 985 440 993 435.6 998.4 C430 1003.6 422 1005.6 414 1003.4 C409.6 1001.4 407.6 996.4 405.2 994.4 C403.2 994.4 402.8 996.6 402.8 999 Z" fill="none" stroke="#f6f6f2" stroke-width="1.35" stroke-dasharray="3 1.6"/>
<line x1="349.7" y1="1036.8" x2="379.7" y2="1036.8" stroke="#fff" stroke-width="2.2"/>
<text x="492.8" y="945.8" font-size="15.6" font-weight="bold" text-anchor="end" fill="#f6f6f6">ii</text>
</g>
<text x="571.7" y="926.6" font-size="15.3" text-anchor="middle" font-weight="bold" fill="#111" textLength="116.8" lengthAdjust="spacing" stroke="#111" stroke-width="0.3">Fragmented DNA</text>
<g id="Diii" clip-path="url(#cp_diii)">
<rect x="500.1" y="930.8" width="149.0" height="109.9" fill="#040804"/>
<path d="M528 969.7 C548 957 573.6 949.4 591.3 951.9 C612 957 619 982 630.6 998.8 C628 1014 606 1026 586.3 1029.2 C562 1034 541 1014 526.7 993.7 C523 984 523 976 528 969.7 Z" fill="#0f6a22" filter="url(#b5)"/>
<ellipse cx="638" cy="996" rx="15" ry="6" fill="#083c12" filter="url(#b3)"/>
<ellipse cx="577" cy="988.5" rx="36" ry="27" fill="#22c44c" filter="url(#b3)" transform="rotate(8 577 988.5)"/>
<ellipse cx="577" cy="988" rx="28" ry="20" fill="#34ea6c" filter="url(#b3)" transform="rotate(8 577 988)"/>
<path d="M528 969.7 C535 963 541 960 548.3 957 C557 953 566 950 573.6 949.4 C580 948.6 586 949.6 591.3 951.9 C597 954.4 601 957.6 604 960.8 C608 965 610 970 611.6 973.5 C613.4 977 614 980.6 615.4 982.3 C616.6 981 617.6 978.6 619.2 977.3 C624 981 626.6 985 628.1 988.7 C630 992 631 995.6 630.6 998.8 C629.6 1004 626 1008 621.7 1011.5 C616 1016 610 1019.6 604 1022.9 C598 1026 592 1028 586.3 1029.2 C580 1030.4 574 1030.8 568.5 1030.5 C563 1030.4 558 1028 553.3 1024.1 C548 1019.6 543 1014 538.1 1008.9 C533.6 1004 529.6 998.6 526.7 993.7 C524.6 989 524 984 524.2 978.5 C524.6 975 526 972 528 969.7 Z" fill="none" stroke="#f6f6f2" stroke-width="1.35" stroke-dasharray="3 1.6"/>
<line x1="503.4" y1="1037" x2="533" y2="1037" stroke="#fff" stroke-width="2.2"/>
<text x="646.4" y="945.6" font-size="15.6" font-weight="bold" text-anchor="end" fill="#f6f6f6">iii</text>
</g>
</svg></body></html>
